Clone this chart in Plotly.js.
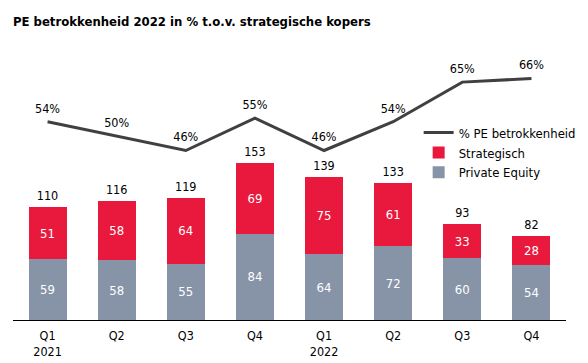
<!DOCTYPE html>
<html>
<head>
<meta charset="utf-8">
<script src="https://cdn.plot.ly/plotly-3.0.1.min.js"></script>
<style>html,body{margin:0;padding:0;background:#fff;}#chart{width:588px;height:363px;}</style>
</head>
<body>
<div id="chart"></div>
<script>
const quarters = ['Q1 2021','Q2 2021','Q3 2021','Q4 2021','Q1 2022','Q2 2022','Q3 2022','Q4 2022'];
const tickLabels = ['Q1<br>2021','Q2','Q3','Q4','Q1<br>2022','Q2','Q3','Q4'];
const privateEquity = [59, 58, 55, 84, 64, 72, 60, 54];
const strategisch = [51, 58, 64, 69, 75, 61, 33, 28];
const pePercent = [54, 50, 46, 55, 46, 54, 65, 66];

const totals = privateEquity.map((v, i) => v + strategisch[i]);
const FONT = 'DejaVu Sans Condensed, DejaVu Sans, sans-serif';

const traces = [
  {
    type: 'bar', name: 'Private Equity', x: quarters, y: privateEquity,
    marker: {color: '#8794A8'}, width: 0.55,
    text: privateEquity.map(String), textposition: 'inside', insidetextanchor: 'middle',
    textfont: {color: '#ffffff', size: 13, family: FONT},
    legendrank: 3, hoverinfo: 'skip'
  },
  {
    type: 'bar', name: 'Strategisch', x: quarters, y: strategisch,
    marker: {color: '#E8193C'}, width: 0.55,
    text: strategisch.map(String), textposition: 'inside', insidetextanchor: 'middle',
    textfont: {color: '#ffffff', size: 13, family: FONT},
    legendrank: 2, hoverinfo: 'skip'
  },
  {
    type: 'scatter', mode: 'markers+text', x: quarters, y: totals,
    marker: {size: 5, color: 'rgba(0,0,0,0)'},
    text: totals.map(String), textposition: 'top center',
    textfont: {color: '#000000', size: 12.5, family: FONT},
    showlegend: false, hoverinfo: 'skip', cliponaxis: false
  },
  {
    type: 'scatter', mode: 'lines+markers+text', name: '% PE betrokkenheid',
    x: quarters, y: pePercent, yaxis: 'y2',
    line: {color: '#404040', width: 3},
    marker: {size: 8, color: 'rgba(0,0,0,0)'},
    text: pePercent.map(v => v + '%'), textposition: 'top center',
    textfont: {color: '#000000', size: 12.5, family: FONT},
    legendrank: 1, hoverinfo: 'skip', cliponaxis: false
  }
];

const layout = {
  width: 588, height: 363,
  margin: {l: 13, r: 22, t: 40, b: 43, autoexpand: false},
  paper_bgcolor: '#ffffff', plot_bgcolor: '#ffffff',
  font: {family: FONT, color: '#000000', size: 12},
  title: {
    text: '<b>PE betrokkenheid 2022 in % t.o.v. strategische kopers</b>',
    x: 0.022, xanchor: 'left', xref: 'container',
    y: 0.94, yanchor: 'middle', yref: 'container',
    font: {family: FONT, size: 13, color: '#000000'}
  },
  barmode: 'stack',
  showlegend: true,
  legend: {
    xref: 'container', yref: 'container',
    x: 0.712, y: 0.676, xanchor: 'left', yanchor: 'top',
    traceorder: 'normal', bgcolor: 'rgba(0,0,0,0)',
    font: {family: FONT, size: 13, color: '#000000'},
    itemwidth: 30, tracegroupgap: 0
  },
  xaxis: {
    type: 'category', categoryorder: 'array', categoryarray: quarters,
    tickvals: quarters, ticktext: tickLabels,
    showline: true, linecolor: '#000000', linewidth: 1,
    ticks: '', showgrid: false, zeroline: false,
    ticklabelstandoff: 4, automargin: false,
    tickfont: {family: FONT, size: 12.5, color: '#000000'},
    range: [-0.5, 7.5], fixedrange: true
  },
  yaxis: {
    range: [0, 272.6], visible: false, showgrid: false, zeroline: false, fixedrange: true
  },
  yaxis2: {
    overlaying: 'y', side: 'right', range: [-1.1, 76.7],
    visible: false, showgrid: false, zeroline: false, fixedrange: true
  }
};

Plotly.newPlot('chart', traces, layout, {staticPlot: true, displayModeBar: false});
</script>
</body>
</html>
